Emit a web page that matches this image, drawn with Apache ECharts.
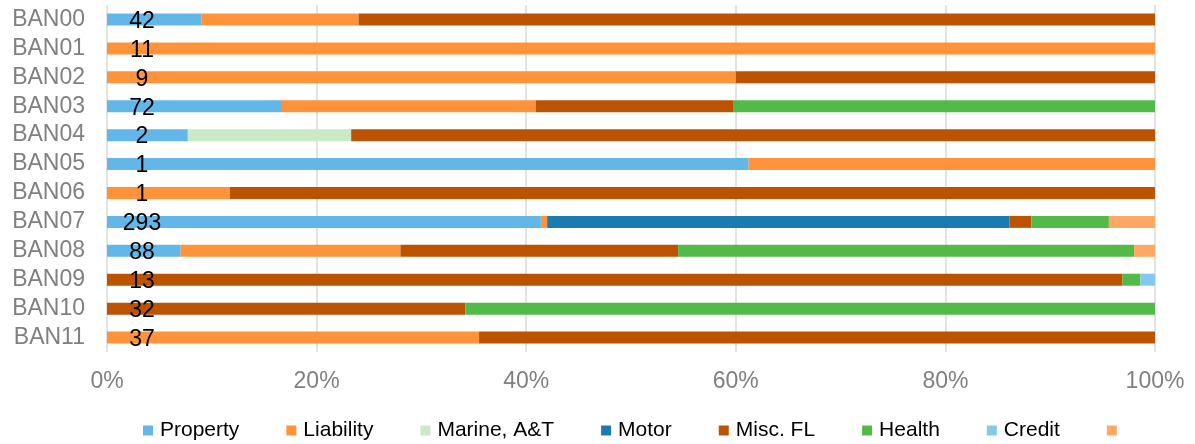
<!DOCTYPE html>
<html>
<head>
<meta charset="utf-8">
<script src="https://cdn.jsdelivr.net/npm/echarts@6/dist/echarts.min.js"></script>
<style>
  html, body { margin: 0; padding: 0; background: #fff; }
  #chart { width: 1195px; height: 444px; }
</style>
</head>
<body>
<div id="chart"></div>
<script>
// Portfolio mix by band: share of each line of business (percent of band total)
const categories = ['BAN00', 'BAN01', 'BAN02', 'BAN03', 'BAN04', 'BAN05',
                    'BAN06', 'BAN07', 'BAN08', 'BAN09', 'BAN10', 'BAN11'];
const counts = [42, 11, 9, 72, 2, 1, 1, 293, 88, 13, 32, 37];

const property  = [9.0, 0, 0, 16.7, 7.7, 61.2, 0, 41.4, 7.0, 0, 0, 0];
const liability = [15.0, 100, 60.0, 24.2, 0, 38.8, 11.7, 0.6, 21.0, 0, 0, 35.5];
const marine    = [0, 0, 0, 0, 15.6, 0, 0, 0, 0, 0, 0, 0];
const motor     = [0, 0, 0, 0, 0, 0, 0, 44.1, 0, 0, 0, 0];
const miscFL    = [76.0, 0, 40.0, 18.9, 76.7, 0, 88.3, 2.1, 26.5, 96.9, 34.2, 64.5];
const health    = [0, 0, 0, 40.2, 0, 0, 0, 7.4, 43.5, 1.7, 65.8, 0];
const credit    = [0, 0, 0, 0, 0, 0, 0, 0, 0, 1.4, 0, 0];
const other     = [0, 0, 0, 0, 0, 0, 0, 4.4, 2.0, 0, 0, 0];

const seriesDefs = [
  { name: 'Property',    data: property,  color: '#62B6E8' },
  { name: 'Liability',   data: liability, color: '#FF9339' },
  { name: 'Marine, A&T', data: marine,    color: '#C9E9C7' },
  { name: 'Motor',       data: motor,     color: '#1B7AAF' },
  { name: 'Misc. FL',    data: miscFL,    color: '#BB5300' },
  { name: 'Health',      data: health,    color: '#52BA48' },
  { name: 'Credit',      data: credit,    color: '#85C8EE' },
  { name: ' ',           data: other,     color: '#FFA764' }
];

const FONT = '"Liberation Sans", Arial, sans-serif';

const chart = echarts.init(document.getElementById('chart'), null, { renderer: 'canvas' });

const series = seriesDefs.map((s, idx) => {
  const item = {
    name: s.name,
    type: 'bar',
    stack: 'total',
    barWidth: 12,
    data: s.data,
    itemStyle: { color: s.color },
    emphasis: { disabled: true },
    animation: false
  };
  if (idx === 0) {
    // band size printed near the start of each bar
    item.label = {
      show: true,
      position: [35, '50%'],
      align: 'center',
      verticalAlign: 'middle',
      offset: [0, 2],
      color: '#000',
      fontFamily: FONT,
      fontSize: 23,
      formatter: p => String(counts[p.dataIndex])
    };
    item.z = 3;
  }
  return item;
});

chart.setOption({
  animation: false,
  textStyle: { fontFamily: FONT },
  grid: { left: 107, right: 40, top: 5, bottom: 92, containLabel: false },
  legend: {
    top: 415,
    left: 138,
    itemWidth: 10,
    itemHeight: 10,
    itemGap: 47,
    icon: 'rect',
    textStyle: { fontFamily: FONT, fontSize: 21, color: '#000', padding: [0, 0, 0, 2] },
    data: seriesDefs.map(s => s.name)
  },
  xAxis: {
    type: 'value',
    min: 0,
    max: 100,
    interval: 20,
    axisLine: { show: false },
    axisTick: { show: false },
    splitLine: { show: true, lineStyle: { color: '#D9D9D9', width: 1.5 } },
    axisLabel: {
      formatter: '{value}%',
      color: '#808080',
      fontFamily: FONT,
      fontSize: 23,
      margin: 18
    }
  },
  yAxis: {
    type: 'category',
    inverse: true,
    data: categories,
    axisLine: { show: false },
    axisTick: { show: false },
    axisLabel: {
      interval: 0,
      color: '#808080',
      fontFamily: FONT,
      fontSize: 23,
      margin: 22
    }
  },
  series: series
});
</script>
</body>
</html>
